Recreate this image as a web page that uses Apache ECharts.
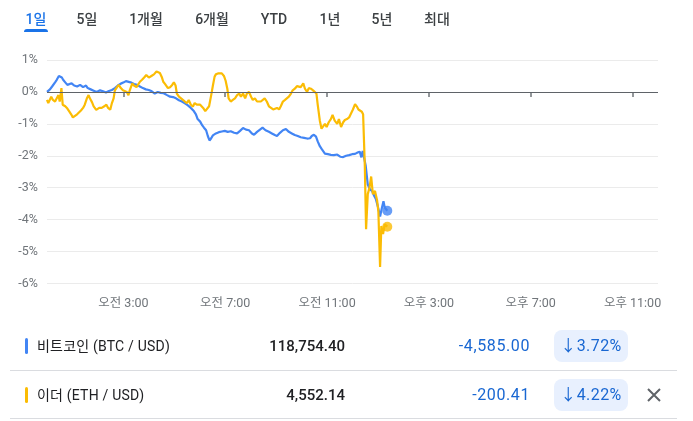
<!DOCTYPE html>
<html><head><meta charset="utf-8">
<script src="https://cdn.jsdelivr.net/npm/echarts@6/dist/echarts.min.js"></script>
<style>
body{margin:0;width:693px;height:421px;overflow:hidden;background:#fff;font-family:Roboto,"Noto Sans CJK KR",sans-serif;position:relative}
#chart{position:absolute;left:0;top:0;width:693px;height:421px}
.tab{position:absolute;top:9px;line-height:20px;font-size:14px;font-weight:500;color:#3c4043;transform:translateX(-50%);white-space:nowrap}
.tab.sel{color:#1a73e8}
#uline{position:absolute;left:24px;top:29px;width:24px;height:3px;background:#1a73e8;border-radius:3px 3px 0 0}
.row{position:absolute;left:0;width:693px;height:32px}
.bar{position:absolute;left:25px;top:8px;width:3px;height:16px;border-radius:2px}
.name{position:absolute;left:37px;top:0;line-height:32px;font-size:14px;letter-spacing:0.2px;color:#202124;white-space:nowrap}
.price{position:absolute;right:348px;top:0;line-height:32px;font-size:15px;font-weight:500;color:#202124}
.chg{position:absolute;right:163px;top:0;line-height:32px;font-size:16px;letter-spacing:0.6px;color:#1967d2}
.badge{position:absolute;left:554px;top:0;width:74px;height:32px;border-radius:8px;background:#e8f0fe;color:#1967d2;font-size:16px;letter-spacing:0.4px;line-height:32px;text-align:center}
.div{position:absolute;left:10px;width:667px;height:1px;background:#dadce0}
</style></head>
<body>
<div id="chart"></div>
<div id="tabs"></div>
<div id="uline"></div>
<div class="row" style="top:330px"><div class="bar" style="background:#4285f4"></div><div class="name">비트코인 (BTC / USD)</div><div class="price">118,754.40</div><div class="chg">-4,585.00</div><div class="badge">↓3.72%</div></div>
<div class="div" style="top:370px"></div>
<div class="row" style="top:379px"><div class="bar" style="background:#fbbc04"></div><div class="name">이더 (ETH / USD)</div><div class="price">4,552.14</div><div class="chg">-200.41</div><div class="badge">↓4.22%</div>
<svg style="position:absolute;left:647px;top:9px" width="14" height="14" viewBox="0 0 14 14"><path d="M1 1L13 13M13 1L1 13" stroke="#5f6368" stroke-width="2"/></svg></div>
<div class="div" style="top:418px"></div>
<script>
const tabLabels = ["1일","5일","1개월","6개월","YTD","1년","5년","최대"];
const tabCenters = [36,87,146,212,274,330,382,437];
const tickMinutes = [180,420,660,900,1140,1380];
const tickLabels = ["오전 3:00","오전 7:00","오전 11:00","오후 3:00","오후 7:00","오후 11:00"];

const btcMinutes = [0,7,12,19,23,28,31,35,38,43,48,52,58,64,71,78,85,92,96,103,110,117,125,132,139,146,153,160,167,174,181,186,190,197,205,212,219,226,233,240,247,254,261,268,275,283,290,297,304,311,318,325,332,339,346,351,355,361,366,370,375,379,383,387,391,398,405,412,419,426,433,441,448,455,462,469,476,483,488,495,502,508,515,523,530,537,542,549,556,563,570,577,584,591,598,606,613,620,624,629,634,638,643,648,655,662,669,676,684,691,698,705,712,719,726,732,737,741,744,748,751,756,761,766,771,775,780,785,789,793,796,802];
const btcPct = [0.0,0.08,0.17,0.3,0.38,0.5,0.56,0.45,0.38,0.3,0.22,0.28,0.27,0.2,0.17,0.22,0.15,0.2,0.12,0.08,0.04,0.0,0.05,0.02,-0.02,0.03,0.06,0.12,0.2,0.26,0.3,0.34,0.28,0.3,0.25,0.22,0.17,0.12,0.08,0.06,0.02,-0.05,0.0,-0.03,-0.04,-0.1,-0.15,-0.16,-0.2,-0.26,-0.3,-0.36,-0.42,-0.5,-0.6,-0.7,-0.85,-0.93,-1.05,-1.12,-1.2,-1.38,-1.52,-1.45,-1.36,-1.3,-1.26,-1.24,-1.22,-1.25,-1.23,-1.28,-1.3,-1.22,-1.13,-1.18,-1.2,-1.3,-1.34,-1.25,-1.18,-1.12,-1.2,-1.25,-1.3,-1.35,-1.38,-1.28,-1.2,-1.16,-1.25,-1.3,-1.35,-1.38,-1.42,-1.44,-1.46,-1.45,-1.38,-1.34,-1.4,-1.55,-1.7,-1.8,-1.93,-1.95,-1.97,-1.98,-1.96,-2.03,-2.04,-2.0,-1.98,-1.95,-1.94,-1.9,-1.87,-2.05,-1.85,-1.84,-2.3,-2.9,-3.05,-3.1,-3.25,-3.35,-3.6,-3.9,-3.65,-3.42,-3.62,-3.72];

const ethMinutes = [0,3,7,10,14,19,23,27,30,34,37,43,48,52,57,61,66,71,75,80,85,89,94,98,101,106,110,116,123,129,135,140,144,149,153,157,160,165,169,174,179,183,188,192,195,201,205,211,215,219,224,229,234,240,246,252,258,261,266,271,274,278,282,285,290,295,299,303,306,311,316,320,325,330,334,339,344,348,353,361,368,373,377,382,387,391,395,398,403,407,412,417,421,425,428,433,438,443,448,453,457,462,467,471,476,481,485,490,495,499,504,508,513,518,523,528,533,537,542,547,551,556,561,565,570,575,579,584,589,593,598,604,608,613,617,622,627,631,635,638,643,647,650,655,659,664,669,673,678,684,688,693,698,702,707,712,716,721,726,730,734,737,742,745,749,752,756,760,764,768,773,778,781,785,788,792,796,802];
const ethPct = [-0.25,-0.35,-0.3,-0.15,-0.25,-0.3,-0.2,-0.1,-0.3,0.12,-0.4,-0.45,-0.52,-0.6,-0.7,-0.8,-0.75,-0.7,-0.65,-0.58,-0.5,-0.4,-0.2,-0.1,-0.2,-0.32,-0.45,-0.56,-0.5,-0.5,-0.45,-0.4,-0.5,-0.56,-0.35,-0.2,0.05,0.15,0.22,0.12,0.05,0.1,0.0,-0.1,0.05,0.27,0.2,0.15,0.2,0.32,0.38,0.45,0.53,0.45,0.5,0.55,0.64,0.6,0.59,0.45,0.32,0.25,0.2,0.12,0.15,0.22,0.3,0.2,-0.05,-0.15,-0.2,-0.2,-0.3,-0.35,-0.25,-0.4,-0.46,-0.35,-0.4,-0.4,-0.5,-0.6,-0.55,-0.45,-0.1,0.2,0.48,0.55,0.58,0.55,0.58,0.5,0.35,0.1,-0.2,-0.3,-0.25,-0.2,-0.1,-0.05,-0.15,-0.05,-0.2,-0.05,0.0,-0.15,-0.25,-0.2,-0.3,-0.28,-0.3,-0.25,-0.2,-0.3,-0.45,-0.5,-0.55,-0.56,-0.5,-0.55,-0.45,-0.3,-0.25,-0.22,-0.15,-0.05,0.05,0.1,0.18,0.22,0.15,0.27,0.1,0.0,0.12,0.1,0.05,0.08,-0.05,-0.4,-0.9,-1.15,-1.1,-1.0,-1.1,-0.95,-0.85,-0.72,-0.9,-1.0,-0.85,-1.1,-0.95,-0.88,-0.85,-0.8,-0.75,-0.55,-0.38,-0.45,-0.55,-0.5,-0.62,-0.7,-2.3,-4.3,-3.2,-3.0,-2.65,-3.2,-3.1,-3.4,-3.75,-5.48,-4.2,-4.45,-4.15,-4.22];

const tabs = document.getElementById('tabs');
tabLabels.forEach((t,i)=>{const d=document.createElement('div');d.className='tab'+(i===0?' sel':'');d.style.left=tabCenters[i]+'px';d.textContent=t;tabs.appendChild(d);});

const zip = (a,b)=>a.map((v,i)=>[v,b[i]]);
const chart = echarts.init(document.getElementById('chart'));
chart.setOption({
  animation:false,
  grid:{left:47,right:35,top:60,bottom:137.5},
  xAxis:{type:'value',min:0,max:1440,splitLine:{show:false},axisLine:{show:false},
    axisTick:{show:true,customValues:tickMinutes,length:5,lineStyle:{color:'#70757a',width:1.5}},
    axisLabel:{customValues:tickMinutes,margin:14,color:'#70757a',fontSize:12.5,fontFamily:'Roboto, "Noto Sans CJK KR", sans-serif',
      formatter:v=>tickLabels[tickMinutes.indexOf(v)]}},
  yAxis:{type:'value',min:-6,max:1,interval:1,axisLine:{show:false},axisTick:{show:false},
    axisLabel:{margin:9,color:'#70757a',fontSize:12.5,fontFamily:'Roboto, sans-serif',formatter:v=>v+'%'},
    splitLine:{lineStyle:{color:'#ebebeb',width:1}}},
  series:[
    {type:'line',data:zip(btcMinutes,btcPct),showSymbol:false,lineStyle:{color:'#4285f4',width:2.2},itemStyle:{color:'#4285f4'},z:2,
      markLine:{silent:true,symbol:['none','none'],label:{show:false},lineStyle:{color:'#5f6368',width:1.2,type:'solid'},data:[{yAxis:0}]}},
    {type:'line',data:zip(ethMinutes,ethPct),showSymbol:false,lineStyle:{color:'#fbbc04',width:2.2},itemStyle:{color:'#fbbc04'},z:3},
    {type:'scatter',data:[[btcMinutes[btcMinutes.length-1],btcPct[btcPct.length-1]]],symbolSize:10,itemStyle:{color:'#4285f4'},z:4},
    {type:'scatter',data:[[ethMinutes[ethMinutes.length-1],ethPct[ethPct.length-1]]],symbolSize:10,itemStyle:{color:'#fbbc04'},z:4}
  ]
});
</script>
</body></html>
